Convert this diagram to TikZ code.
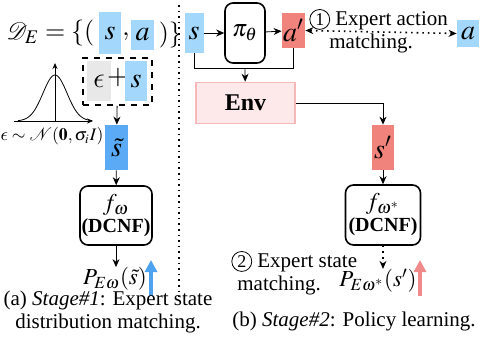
\documentclass[tikz,border=0pt]{standalone}
\usepackage{amsmath}
\usepackage{mathptmx}
\usepackage{mathrsfs}
\usepackage{fontspec}
\setmainfont{Liberation Serif}
\usetikzlibrary{arrows.meta}

% lunate epsilon from the cm letters
\DeclareSymbolFont{cmletters}{OML}{cmm}{m}{it}
\DeclareMathSymbol{\lunate}{\mathord}{cmletters}{"0F}

\newcommand{\circnum}[1]{\tikz[baseline=(c.base)]\node[draw, circle, thin, inner sep=0.9pt, font=\small] (c) {#1};}

\tikzset{
  every node/.style={inner sep=0pt},
  statebox/.style={minimum width=11pt, minimum height=20pt, font=\fontsize{14}{16}\selectfont},
  netbox/.style={draw, thick, rounded corners=4pt, align=center},
  note/.style={font=\fontsize{10.5}{11.5}\selectfont}
}

\begin{document}
\begin{tikzpicture}[x=0.5pt, y=-0.5pt, >={Stealth[length=4pt,width=3.5pt]}]

% Define colors
\definecolor{expert}{HTML}{A3D7FB}
\definecolor{noisy}{HTML}{5BAAF5}
\definecolor{policy}{HTML}{F0837B}
\definecolor{envfill}{HTML}{FDE9E9}
\definecolor{envline}{HTML}{F6B7B7}
\definecolor{noise}{HTML}{E8E8E8}
\definecolor{upblue}{HTML}{4EA3F0}
\definecolor{upred}{HTML}{F08A8A}

\useasboundingbox (0,0) rectangle (483,344);

% Stage 1: expert data
\node[statebox, fill=expert, minimum height=21pt] (ds) at (110,33) {$s$};
\node[anchor=east, inner sep=2pt, font=\fontsize{13}{15}\selectfont] (dset) at (ds.west) {$\mathscr{D}_E=\{($};
\node[font=\fontsize{13}{15}\selectfont] (comma) at (126,37) {$,$};
\node[statebox, fill=expert, minimum width=11.5pt, minimum height=15pt] (da) at (142.5,35) {$a$};
\node[anchor=west, inner sep=2pt, font=\fontsize{13}{15}\selectfont] (dclose) at (da.east) {$)\}$};

% Draw the noisy state
\node[draw, dashed, thick, minimum width=34.5pt, minimum height=23.5pt] (noisybox) at (117.5,81.5) {};
\node[statebox, fill=noise, minimum width=12pt] (eps) at (99,81) {$\lunate$};
\node[font=\fontsize{14}{16}\selectfont] (plus) at (118,78) {$+$};
\node[statebox, fill=expert] (ns) at (136,81) {$s$};

% Draw the gaussian
\draw[->, >={Stealth[length=3pt,width=2.5pt]}] (14,121) -- (93,121);
\draw[->, >={Stealth[length=3pt,width=2.5pt]}] (55,121) -- (55,63);
\draw plot[domain=18:92, samples=60, smooth] (\x, {121-46*exp(-((\x-55)/12)^2/2)});
\node[font=\fontsize{8.8}{10}\selectfont] (gauss) at (52,136) {$\lunate\sim\mathscr{N}(\mathbf{0},\sigma_i\boldsymbol{I})$};

\node[statebox, fill=noisy, minimum width=11.5pt, minimum height=22.5pt] (st) at (116.5,147.5) {$\tilde{s}$};
\node[netbox, minimum width=36pt, minimum height=29.5pt] (flow) at (116,215.5) {{\large$f_\omega$}\\[-1pt]\textbf{(DCNF)}};
\node[font=\fontsize{11.5}{14}\selectfont] (prob) at (115,279) {$P_{E\omega}(\tilde{s})$};
\coordinate (bluelow) at (151,296);
\coordinate (bluehigh) at (151,260);

\draw[->] (noisybox) -- (st);
\draw[->] (st) -- (flow);
\draw[->] (flow.south) -- (flow.south |- prob.north);
\draw[-{Triangle[length=6pt,width=6pt]}, line width=2pt, upblue] (bluelow) -- (bluehigh);

\node[note, align=center] (capa) at (108,312) {(a) \textit{Stage\#1}: Expert state\\distribution matching.};

% Divider
\draw[dotted, thick] (179,5) -- (179,297);

% Stage 2: policy rollout
\node[statebox, fill=expert, minimum width=9.5pt] (ps) at (194,33) {$s$};
\node[netbox, minimum width=20pt, minimum height=30pt, font=\large] (pi) at (245,33) {$\pi_\theta$};
\node[statebox, fill=policy, minimum width=11.5pt, minimum height=17.5pt] (ap) at (293.5,30.5) {$a'$};
\node[statebox, fill=expert, minimum width=11pt, minimum height=13.5pt] (ea) at (468,33.5) {$a$};
\node[draw=envline, fill=envfill, thick, minimum width=49.5pt, minimum height=20.5pt, font=\large\bfseries] (env) at (245.5,103) {Env};
\node[statebox, fill=policy, minimum width=11pt, minimum height=22.5pt] (sp) at (383,147.5) {$s'$};
\node[netbox, minimum width=37.5pt, minimum height=30pt] (flowstar) at (383,215) {{\large$f_{\omega^*}$}\\[-1pt]\textbf{(DCNF)}};
\node[font=\fontsize{11.5}{14}\selectfont] (probstar) at (378,281) {$P_{E\omega^*}(s')$};
\coordinate (join) at (245,68);
\coordinate (redlow) at (420,296);
\coordinate (redhigh) at (420,260);

\draw[->] (ps) -- (pi);
\draw[->] (pi) -- (ap);
\draw (ps.south) -- ++(0,15) -| (ap.south);
\draw[->] (join) -- (env);
\draw[->] (env.east) -| (sp.north);
\draw[->] (sp) -- (flowstar);
\draw[->, dotted, thick] (flowstar.south) -- (flowstar.south |- probstar.north);
\draw[<->, dotted, thick] (ap.east) -- (ea.west);
\draw[-{Triangle[length=6pt,width=6pt]}, line width=2pt, upred] (redlow) -- (redhigh);

\node[note, align=left, anchor=west] (match1) at (309,31) {\circnum{1} Expert action\\\hspace*{10pt}matching.};
\node[note, align=left, anchor=west] (match2) at (231,273) {\circnum{2} Expert state\\\hspace*{3pt}matching.};
\node[note] (capb) at (354,321) {(b) \textit{Stage\#2}: Policy learning.};

\end{tikzpicture}
\end{document}
